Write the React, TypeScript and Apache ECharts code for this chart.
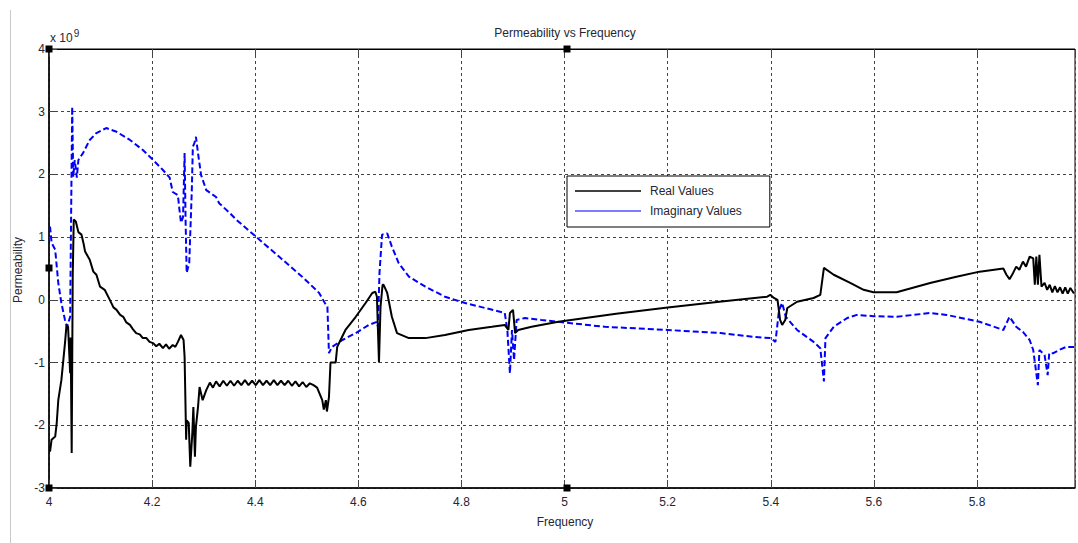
import React, { useEffect, useRef } from "react";
import * as echarts from "echarts";

// Frequency ticks and permeability ticks (units of 1e9)
const xTicks = [4, 4.2, 4.4, 4.6, 4.8, 5, 5.2, 5.4, 5.6, 5.8];
const yTicks = [-3, -2, -1, 0, 1, 2, 3, 4];

// Real part (x: frequency, y: permeability / 1e9)
const realValues: [number, number][] = [
  [4.002, -2.42], [4.005, -2.23], [4.012, -2.18], [4.015, -1.96], [4.018, -1.6],
  [4.024, -1.28], [4.031, -0.69], [4.034, -0.4], [4.037, -0.43], [4.041, -1.17],
  [4.042, -0.6], [4.044, -2.44], [4.046, 0.37], [4.048, 1.28], [4.052, 1.25],
  [4.057, 1.08], [4.063, 1.04], [4.067, 0.9], [4.070, 0.77], [4.079, 0.64],
  [4.086, 0.45], [4.092, 0.40], [4.099, 0.21], [4.108, 0.16], [4.118, 0.0],
  [4.125, -0.12], [4.131, -0.16], [4.138, -0.24], [4.144, -0.27], [4.150, -0.36],
  [4.157, -0.40], [4.163, -0.47], [4.169, -0.53], [4.176, -0.55], [4.182, -0.61],
  [4.189, -0.61], [4.195, -0.67], [4.202, -0.69], [4.208, -0.74], [4.214, -0.70],
  [4.221, -0.77], [4.227, -0.71], [4.233, -0.78], [4.240, -0.72], [4.245, -0.75],
  [4.250, -0.67], [4.256, -0.56], [4.261, -0.64], [4.263, -0.91], [4.266, -2.23],
  [4.267, -1.92], [4.271, -1.96], [4.274, -2.66], [4.278, -2.12], [4.280, -1.71],
  [4.283, -2.5], [4.285, -2.02], [4.289, -1.71], [4.292, -1.39], [4.298, -1.6],
  [4.305, -1.44], [4.312, -1.32], [4.318, -1.40], [4.324, -1.30], [4.331, -1.38],
  [4.338, -1.29], [4.345, -1.37], [4.352, -1.29], [4.359, -1.37], [4.366, -1.29],
  [4.373, -1.36], [4.380, -1.28], [4.387, -1.36], [4.394, -1.29], [4.401, -1.36],
  [4.408, -1.28], [4.415, -1.36], [4.422, -1.29], [4.429, -1.36], [4.436, -1.28],
  [4.443, -1.36], [4.450, -1.29], [4.457, -1.36], [4.464, -1.29], [4.471, -1.37],
  [4.478, -1.30], [4.485, -1.38], [4.492, -1.31], [4.499, -1.39], [4.506, -1.33],
  [4.513, -1.36], [4.520, -1.40], [4.530, -1.6], [4.533, -1.75], [4.537, -1.6],
  [4.539, -1.78], [4.543, -1.55], [4.546, -1.0], [4.556, -1.0], [4.559, -0.75],
  [4.569, -0.58], [4.575, -0.48], [4.595, -0.27], [4.614, -0.05], [4.627, 0.11],
  [4.633, 0.13], [4.636, 0.05], [4.640, -1.0], [4.643, -0.11], [4.647, 0.24],
  [4.649, 0.24], [4.656, 0.11], [4.665, -0.27], [4.675, -0.53], [4.698, -0.61],
  [4.730, -0.61], [4.768, -0.56], [4.814, -0.48], [4.859, -0.43], [4.884, -0.40],
  [4.891, -0.48], [4.894, -0.21], [4.900, -0.16], [4.904, -0.53], [4.910, -0.48],
  [4.936, -0.43], [4.988, -0.35], [5.1, -0.22], [5.2, -0.12], [5.3, -0.03],
  [5.393, 0.05], [5.399, 0.08], [5.406, 0.03], [5.413, 0.0], [5.418, -0.32],
  [5.422, -0.40], [5.428, -0.32], [5.432, -0.13], [5.451, -0.03], [5.483, 0.03],
  [5.496, 0.08], [5.503, 0.51], [5.522, 0.40], [5.554, 0.27], [5.580, 0.16],
  [5.599, 0.12], [5.644, 0.12], [5.709, 0.27], [5.760, 0.37], [5.805, 0.45],
  [5.851, 0.50], [5.857, 0.40], [5.863, 0.33], [5.870, 0.43], [5.876, 0.53],
  [5.882, 0.48], [5.889, 0.61], [5.895, 0.53], [5.902, 0.69], [5.909, 0.66],
  [5.912, 0.24], [5.915, 0.69], [5.918, 0.24], [5.921, 0.72], [5.925, 0.21],
  [5.931, 0.27], [5.936, 0.16], [5.941, 0.24], [5.946, 0.12], [5.951, 0.22],
  [5.956, 0.12], [5.961, 0.20], [5.966, 0.10], [5.971, 0.20], [5.976, 0.10],
  [5.981, 0.19], [5.988, 0.10],
];

// Imaginary part (x: frequency, y: permeability / 1e9)
const imaginaryValues: [number, number][] = [
  [4.002, 1.17], [4.005, 0.91], [4.012, 0.8], [4.018, 0.27], [4.024, -0.05],
  [4.031, -0.32], [4.035, -0.43], [4.041, -0.27], [4.044, 2.28], [4.045, 3.08],
  [4.047, 1.96], [4.050, 2.23], [4.054, 1.95], [4.057, 2.23], [4.066, 2.34],
  [4.079, 2.55], [4.092, 2.66], [4.111, 2.74], [4.131, 2.68], [4.157, 2.55],
  [4.182, 2.39], [4.202, 2.23], [4.221, 2.07], [4.234, 1.95], [4.240, 1.72],
  [4.250, 1.67], [4.253, 1.44], [4.256, 1.23], [4.260, 1.32], [4.263, 2.34],
  [4.265, 1.23], [4.267, 0.43], [4.272, 0.59], [4.277, 1.75], [4.279, 2.44],
  [4.282, 2.50], [4.285, 2.6], [4.289, 2.34], [4.295, 1.99], [4.305, 1.75],
  [4.324, 1.64], [4.330, 1.54], [4.350, 1.39], [4.363, 1.28], [4.401, 1.01],
  [4.446, 0.69], [4.491, 0.37], [4.524, 0.11], [4.537, -0.08], [4.540, -0.11],
  [4.543, -0.85], [4.549, -0.75], [4.569, -0.64], [4.595, -0.53], [4.620, -0.40],
  [4.636, -0.35], [4.638, -0.43], [4.641, 0.43], [4.646, 1.04], [4.656, 1.06],
  [4.665, 0.85], [4.678, 0.59], [4.698, 0.37], [4.730, 0.21], [4.768, 0.05],
  [4.807, -0.05], [4.846, -0.13], [4.884, -0.21], [4.889, -0.48], [4.894, -1.17],
  [4.898, -0.48], [4.902, -0.96], [4.907, -0.32], [4.923, -0.29], [4.955, -0.32],
  [4.988, -0.35], [5.078, -0.43], [5.200, -0.48], [5.303, -0.53], [5.367, -0.59],
  [5.400, -0.61], [5.409, -0.67], [5.416, -0.16], [5.422, -0.05], [5.429, -0.27],
  [5.451, -0.48], [5.483, -0.67], [5.496, -0.77], [5.503, -1.30], [5.506, -0.61],
  [5.522, -0.43], [5.548, -0.29], [5.567, -0.24], [5.599, -0.26], [5.644, -0.27],
  [5.709, -0.21], [5.741, -0.24], [5.805, -0.35], [5.851, -0.48], [5.863, -0.27],
  [5.876, -0.43], [5.889, -0.51], [5.902, -0.64], [5.909, -0.80], [5.918, -1.36],
  [5.921, -0.80], [5.931, -0.88], [5.937, -1.20], [5.940, -0.85], [5.948, -0.85],
  [5.959, -0.80], [5.973, -0.75], [5.988, -0.75],
];

const FONT = "'Liberation Sans', Arial, sans-serif";
const TEXT = "#262633";

export default function App() {
  const ref = useRef<HTMLDivElement>(null);

  useEffect(() => {
    document.body.style.margin = "0";
    if (!ref.current) return;
    const chart = echarts.init(ref.current, undefined, { renderer: "svg" });
    const gridL = 49, gridT = 49, gridW = 1030, gridH = 439;
    const handle = (x: number, y: number) => ({
      type: "rect",
      shape: { x: x - 3.5, y: y - 3.5, width: 7, height: 7 },
      style: { fill: "#000" },
      z: 100,
    });
    chart.setOption({
      animation: false,
      backgroundColor: "#fff",
      textStyle: { fontFamily: FONT },
      grid: {
        left: gridL, top: gridT, width: gridW, height: gridH,
        show: true, borderColor: "#000", borderWidth: 1, backgroundColor: "transparent",
      },
      xAxis: [
        {
          type: "value", min: 4, max: 5.99, interval: 0.2,
          axisLine: { show: true, onZero: false, lineStyle: { color: "#000", width: 1.5 } },
          axisTick: { show: true, inside: true, length: 8, lineStyle: { color: "#444" } },
          axisLabel: {
            color: TEXT, fontSize: 12, fontFamily: FONT, margin: 8,
            formatter: (v: number) => (xTicks.some((t) => Math.abs(t - v) < 1e-6) ? String(+v.toFixed(1)) : ""),
          },
          splitLine: { show: true, lineStyle: { color: "#444", type: [3, 3], width: 1 } },
        },
        {
          type: "value", min: 4, max: 5.99, interval: 0.2, position: "top",
          axisLine: { show: true, onZero: false, lineStyle: { color: "#000", width: 1 } },
          axisTick: { show: true, inside: true, length: 8, lineStyle: { color: "#444" } },
          axisLabel: { show: false },
          splitLine: { show: false },
        },
      ],
      yAxis: {
        type: "value", min: -3, max: 4, interval: 1,
        axisLine: { show: true, onZero: false, lineStyle: { color: "#000", width: 1.5 } },
        axisTick: { show: true, inside: true, length: 8, lineStyle: { color: "#444" } },
        axisLabel: {
          color: TEXT, fontSize: 12, fontFamily: FONT, margin: 4,
          formatter: (v: number) => (yTicks.includes(Math.round(v)) ? String(Math.round(v)) : ""),
        },
        splitLine: { show: true, lineStyle: { color: "#444", type: [3, 3], width: 1 } },
      },
      legend: {
        show: true,
        orient: "vertical",
        left: 567, top: 176,
        padding: [9, 28, 10, 8],
        itemGap: 8,
        itemWidth: 66, itemHeight: 1.5,
        icon: "rect",
        backgroundColor: "#fff",
        borderColor: "#000", borderWidth: 1,
        textStyle: { color: TEXT, fontSize: 12, fontFamily: FONT, padding: [0, 0, 0, 4] },
        data: [
          { name: "Real Values", itemStyle: { color: "#000" } },
          { name: "Imaginary Values", itemStyle: { color: "#5050ff" } },
        ],
      },
      series: [
        {
          name: "Real Values", type: "line", data: realValues, showSymbol: false,
          lineStyle: { color: "#000", width: 2 }, itemStyle: { color: "#000" }, z: 3,
        },
        {
          name: "Imaginary Values", type: "line", data: imaginaryValues, showSymbol: false,
          lineStyle: { color: "#0000ff", width: 2, type: [6, 3] }, itemStyle: { color: "#0000ff" }, z: 2,
        },
      ],
      graphic: [
        { type: "line", shape: { x1: 10.5, y1: 10, x2: 10.5, y2: 543 }, style: { stroke: "#c8c8c8", lineWidth: 1 } },
        {
          type: "text", x: 565, y: 33,
          style: { text: "Permeability vs Frequency", fill: TEXT, font: `12px ${FONT}`, textAlign: "center", textVerticalAlign: "middle" },
        },
        {
          type: "text", x: 565, y: 522,
          style: { text: "Frequency", fill: TEXT, font: `12px ${FONT}`, textAlign: "center", textVerticalAlign: "middle" },
        },
        {
          type: "text", x: 18, y: 270, rotation: Math.PI / 2,
          style: { text: "Permeability", fill: TEXT, font: `12px ${FONT}`, textAlign: "center", textVerticalAlign: "middle" },
        },
        {
          type: "text", x: 50, y: 38,
          style: {
            text: "x 10{s|9}",
            fill: TEXT, font: `12px ${FONT}`, textVerticalAlign: "middle",
            rich: { s: { fontSize: 10, fontFamily: FONT, fill: TEXT, padding: [0, 0, 10, 1] } },
          },
        },
        handle(49, 49), handle(49, 268), handle(567, 49), handle(567, 488), handle(49, 488),
      ],
    });
    return () => chart.dispose();
  }, []);

  return <div ref={ref} style={{ width: 1078, height: 543, position: "absolute", left: 0, top: 0 }} />;
}
